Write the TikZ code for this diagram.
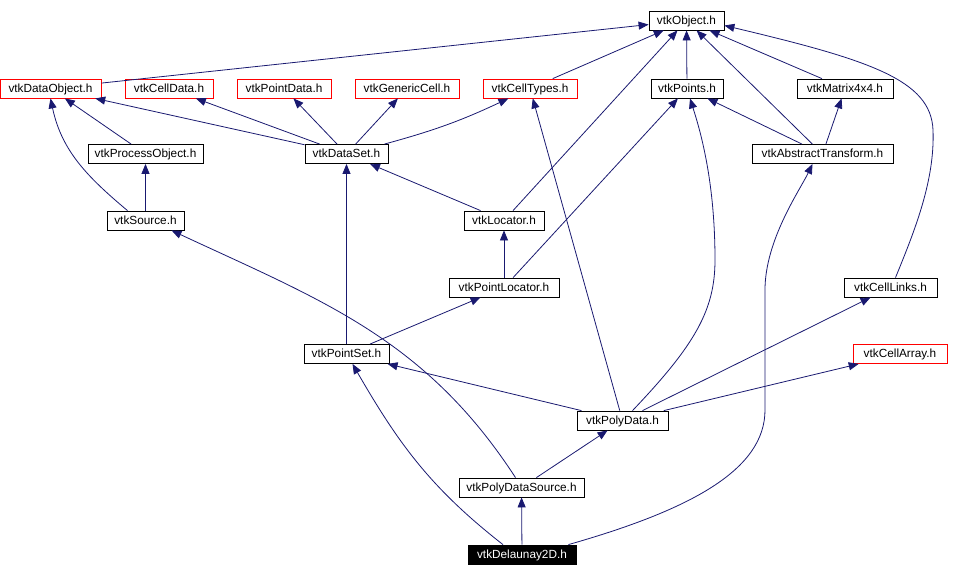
\documentclass[tikz,border=0pt]{standalone}
\usepackage{fontspec}
\setmainfont{Liberation Sans}
\usetikzlibrary{arrows.meta}
\definecolor{edgeblue}{HTML}{191970}

\begin{document}
\begin{tikzpicture}[x=1pt,y=1pt,
  hdr/.style={draw,fill=white,line width=0.8pt,minimum height=19pt,inner sep=0pt,text height=9pt,text depth=1.5pt,font=\fontsize{11.8}{13}\selectfont},
  nodoc/.style={hdr,draw=red},
  cur/.style={hdr,fill=black,text=white},
  inc/.style={edgeblue,line width=0.8pt,-{Triangle[length=10pt,width=8pt]}}]
\useasboundingbox (0,0) rectangle (962,-576);
\node[hdr,minimum width=75pt] (obj) at (686.5,-20.5) {vtkObject.h};
\node[nodoc,minimum width=101pt] (dobj) at (50.5,-88.5) {vtkDataObject.h};
\node[nodoc,minimum width=88pt] (cdata) at (169,-88.5) {vtkCellData.h};
\node[nodoc,minimum width=94pt] (pdat) at (284,-88.5) {vtkPointData.h};
\node[nodoc,minimum width=104pt] (gcell) at (407,-88.5) {vtkGenericCell.h};
\node[nodoc,minimum width=94pt] (ctypes) at (530,-88.5) {vtkCellTypes.h};
\node[hdr,minimum width=72pt] (pts) at (687,-88.5) {vtkPoints.h};
\node[hdr,minimum width=96pt] (mat) at (845,-88.5) {vtkMatrix4x4.h};
\node[hdr,minimum width=115pt] (pobj) at (145.5,-154) {vtkProcessObject.h};
\node[hdr,minimum width=83pt] (dset) at (346.5,-154) {vtkDataSet.h};
\node[hdr,minimum width=141pt] (atr) at (822.5,-154) {vtkAbstractTransform.h};
\node[hdr,minimum width=77pt] (src) at (145.5,-220.5) {vtkSource.h};
\node[hdr,minimum width=80pt] (lct) at (504,-220.5) {vtkLocator.h};
\node[hdr,minimum width=110pt] (ploc) at (504,-287.5) {vtkPointLocator.h};
\node[hdr,minimum width=93pt] (clinks) at (890.5,-287.5) {vtkCellLinks.h};
\node[hdr,minimum width=85pt] (pset) at (346.5,-354) {vtkPointSet.h};
\node[nodoc,minimum width=94pt] (carr) at (900,-354) {vtkCellArray.h};
\node[hdr,minimum width=91pt] (pdata) at (622.5,-420.5) {vtkPolyData.h};
\node[hdr,minimum width=125pt] (pds) at (521.5,-487.5) {vtkPolyDataSource.h};
\node[cur,minimum width=108pt] (d2d) at (522,-554.5) {vtkDelaunay2D.h};
\draw[inc] (dobj) -- (obj);
\draw[inc] (ctypes) -- (obj);
\draw[inc] (lct) -- (obj);
\draw[inc] (pts) -- (obj);
\draw[inc] (atr) -- (obj);
\draw[inc] (mat) -- (obj);
\draw[inc] ([xshift=5pt]clinks.north) .. controls (915,-230) and (935,-180) .. (933,-130) .. controls (931,-80) and (870,-60) .. ([yshift=-5pt]obj.east);
\draw[inc] (pobj) -- (dobj);
\draw[inc] ([xshift=-18pt]src.north) to[out=140,in=-78] (dobj.south);
\draw[inc] (dset) -- (dobj);
\draw[inc] (dset) -- (cdata);
\draw[inc] (dset) -- (pdat);
\draw[inc] (dset) -- (gcell);
\draw[inc] (dset) to[bend right=5] (ctypes);
\draw[inc] (src) -- (pobj);
\draw[inc] (lct) -- (dset);
\draw[inc] (pset) -- (dset);
\draw[inc] (ploc) -- (lct);
\draw[inc] (ploc) -- (pts);
\draw[inc] (atr) -- (pts);
\draw[inc] (atr) -- (mat);
\draw[inc] (pdata) -- (ctypes);
\draw[inc] ([xshift=10pt]pdata.north) .. controls (695,-345) and (715,-310) .. (715,-260) .. controls (715,-180) and (700,-130) .. ([xshift=3pt]pts.south);
\draw[inc] (pdata) -- (pset);
\draw[inc] (pdata) -- (clinks);
\draw[inc] (pdata) -- (carr);
\draw[inc] (pset) -- (ploc);
\draw[inc] ([xshift=-6pt]pds.north) to[out=123,in=-25] ([xshift=26pt]src.south);
\draw[inc] (pds) -- (pdata);
\draw[inc] (d2d) -- (pds);
\draw[inc] ([xshift=-19pt]d2d.north) to[out=142,in=-60] ([xshift=6pt]pset.south);
\draw[inc] ([xshift=-8pt]d2d.north east) .. controls (690,-510) and (765,-470) .. (765,-410) -- (765,-290) .. controls (765,-240) and (800,-190) .. ([xshift=-10pt]atr.south);
\end{tikzpicture}
\end{document}
